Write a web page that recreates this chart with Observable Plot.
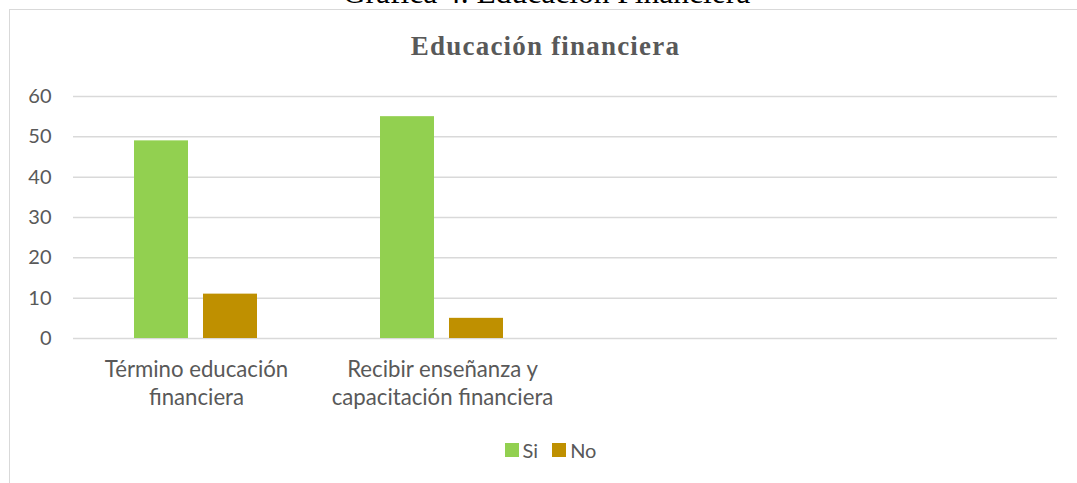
<!DOCTYPE html>
<html>
<head>
<meta charset="utf-8">
<script src="https://cdn.jsdelivr.net/npm/d3@7"></script>
<script src="https://cdn.jsdelivr.net/npm/@observablehq/plot@0.6"></script>
<style>
  html, body { margin: 0; padding: 0; background: #fff; overflow: hidden; }
  body { width: 1077px; height: 483px; position: relative; }
  #caption { position: absolute; left: 8px; width: 1077px; top: -23px; text-align: center;
    font-family: "Liberation Serif", "DejaVu Serif", serif; font-size: 31.5px; color: #000; line-height: 32px; }
  #frame { position: absolute; left: 9px; top: 9px; width: 1200px; height: 600px;
    border-left: 1.5px solid #d9d9d9; border-top: 1.5px solid #d9d9d9; background: #fff; }
  #title { position: absolute; left: 7px; width: 1077px; top: 31px; text-align: center;
    font-family: "Liberation Serif", "DejaVu Serif", serif; font-weight: bold; font-size: 27px;
    letter-spacing: 1.2px; color: #595959; }
  #chart { position: absolute; left: 0; top: 0; }
  #legend { position: absolute; left: 12px; width: 1077px; top: 438px; display: flex; justify-content: center;
    align-items: center; gap: 14px; font-family: Lato, "Open Sans", sans-serif; font-size: 20px; color: #595959; }
  .sw { display: inline-block; width: 14px; height: 14px; margin-right: 4px; }
  .item { display: flex; align-items: center; }
</style>
</head>
<body>
<div id="caption">Gráfica 4. Educación Financiera</div>
<div id="frame"></div>
<div id="title">Educación financiera</div>
<div id="chart"></div>
<div id="legend"></div>
<script>
const categories = ["Término educación financiera", "Recibir enseñanza y capacitación financiera", "", " "];
const categoryLabels = ["Término educación\nfinanciera", "Recibir enseñanza y\ncapacitación financiera", "", ""];
const seriesNames = ["Si", "No"];
const siValues = [49, 55];
const noValues = [11, 5];
const seriesColors = ["#92d050", "#bf9000"];
const yTicks = [0, 10, 20, 30, 40, 50, 60];

const data = [];
siValues.forEach((v, i) => data.push({category: categories[i], series: "Si", value: v}));
noValues.forEach((v, i) => data.push({category: categories[i], series: "No", value: v}));

const gridData = categories.flatMap(c => yTicks.map(t => ({category: c, tick: t})));
const labelOf = new Map(categories.map((c, i) => [c, categoryLabels[i]]));

const chart = Plot.plot({
  width: 1077,
  height: 483,
  marginLeft: 72,
  marginRight: 19,
  marginTop: 96,
  marginBottom: 145,
  style: {fontFamily: "Lato, 'Open Sans', sans-serif", background: "transparent"},
  fx: {domain: categories, paddingInner: 0, paddingOuter: 0, axis: null, label: null},
  x: {domain: seriesNames, paddingInner: 15 / 70, paddingOuter: 0.868, axis: null, label: null},
  y: {domain: [0, 60], axis: null, label: null},
  color: {domain: seriesNames, range: seriesColors},
  marks: [
    Plot.ruleY(gridData, {fx: "category", y: "tick", stroke: "#d9d9d9", strokeWidth: 1.5}),
    Plot.barY(data, {fx: "category", x: "series", y: "value", fill: "series"}),
    Plot.axisY(yTicks, {tickSize: 0, tickPadding: 22, fontSize: 20, fill: "#595959", label: null, tickFormat: d => d}),
    Plot.axisFx({anchor: "bottom", tickSize: 0, tickPadding: 19, fontSize: 22.2, fill: "#595959",
      lineHeight: 1.25, label: null, tickFormat: d => labelOf.get(d)})
  ]
});
document.getElementById("chart").appendChild(chart);

const legend = document.getElementById("legend");
seriesNames.forEach((s, i) => {
  const item = document.createElement("span");
  item.className = "item";
  item.innerHTML = `<span class="sw" style="background:${seriesColors[i]}"></span>${s}`;
  legend.appendChild(item);
});
</script>
</body>
</html>
